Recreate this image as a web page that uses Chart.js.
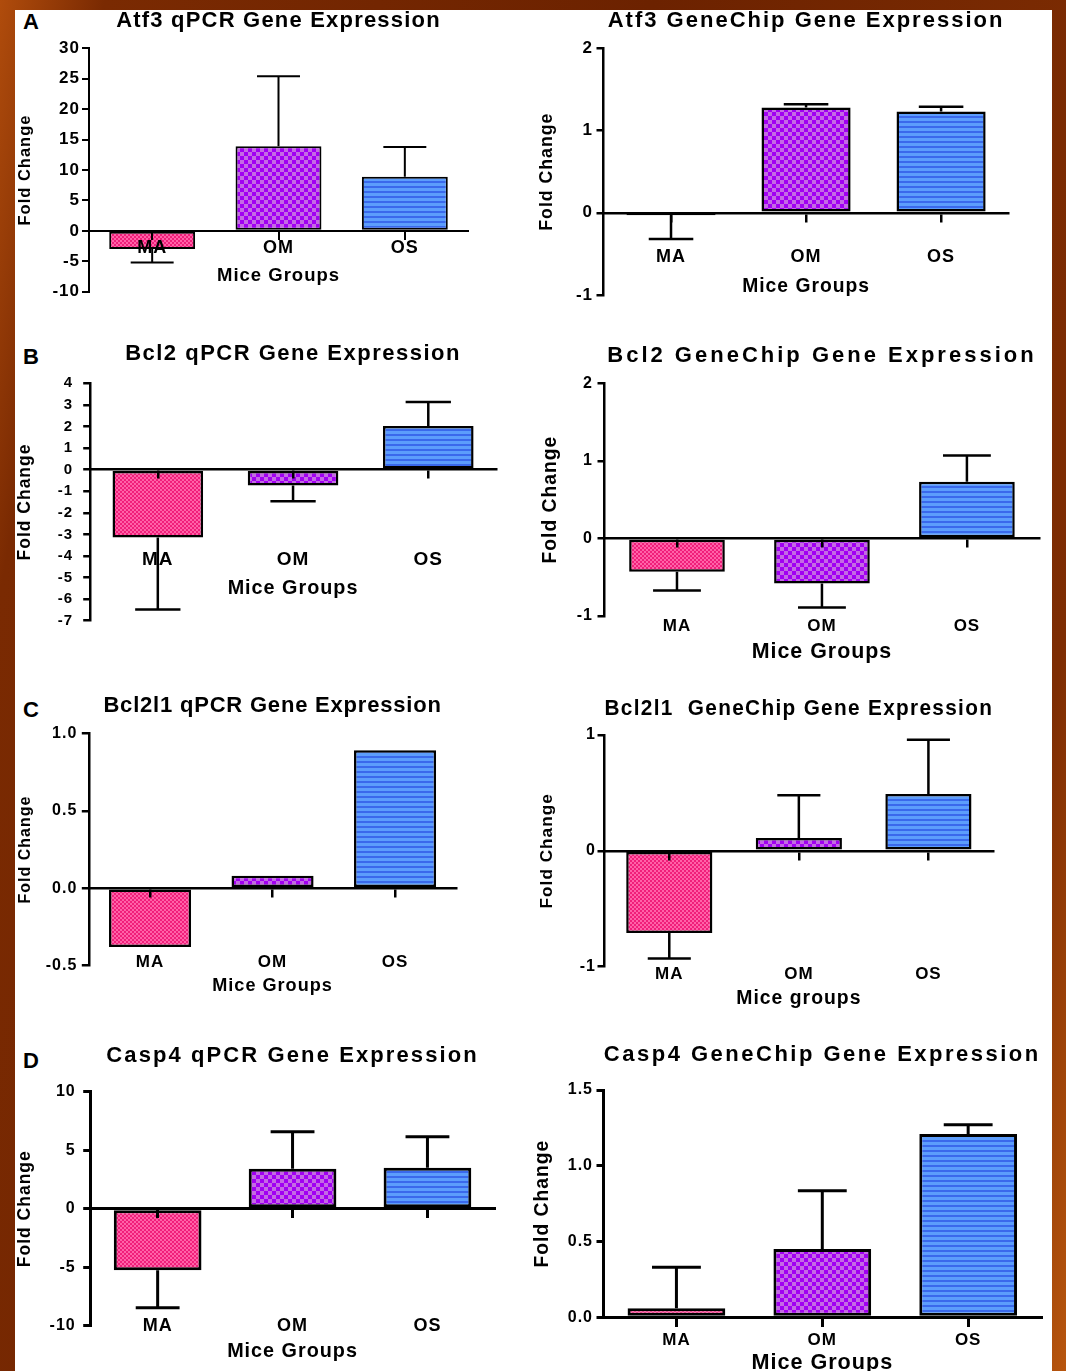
<!DOCTYPE html>
<html lang="en">
<head>
<meta charset="UTF-8">
<title>Atf3, Bcl2, Bcl2l1, Casp4 gene expression</title>
<script src="https://cdn.jsdelivr.net/npm/chart.js@4"></script>
<style>
    html, body { margin: 0; padding: 0; }
    body {
        width: 1066px; height: 1371px; overflow: hidden; position: relative;
        background: linear-gradient(100deg, #b04c0c 0%, #7a2a02 8%, #6c2200 50%, #7e2d03 90%, #b8560e 100%);
    }
    .sheet { position: absolute; left: 15px; top: 10px; width: 1037px; height: 1361px; background: #fff; }
    .panel { position: absolute; }
    .letter { position: absolute; font: bold 22px 'Liberation Sans', Arial, sans-serif; line-height: 22px; color: #000; }
</style>
</head>
<body>
<div class="sheet"></div>
<div class="letter" style="left:23px; top:11px">A</div>
<div class="letter" style="left:23px; top:346px">B</div>
<div class="letter" style="left:23px; top:699px">C</div>
<div class="letter" style="left:23px; top:1050px">D</div>

<script>
    // groups on the x axis
    const groups = ['MA', 'OM', 'OS'];

    // Atf3
    const atf3QpcrMean = [-3.0, 13.9, 8.9];
    const atf3QpcrSem = [2.2, 11.5, 4.9];
    const atf3QpcrTicks = [-10, -5, 0, 5, 10, 15, 20, 25, 30];
    const atf3ChipMean = [-0.03, 1.28, 1.23];
    const atf3ChipSem = [0.29, 0.04, 0.06];
    const atf3ChipTicks = [-1, 0, 1, 2];

    // Bcl2
    const bcl2QpcrMean = [-3.15, -0.73, 2.02];
    const bcl2QpcrSem = [3.33, 0.74, 1.11];
    const bcl2QpcrTicks = [-7, -6, -5, -4, -3, -2, -1, 0, 1, 2, 3, 4];
    const bcl2ChipMean = [-0.43, -0.58, 0.73];
    const bcl2ChipSem = [0.24, 0.31, 0.34];
    const bcl2ChipTicks = [-1, 0, 1, 2];

    // Bcl2l1
    const bcl2l1QpcrMean = [-0.38, 0.08, 0.89];
    const bcl2l1QpcrSem = [0, 0, 0];
    const bcl2l1QpcrTicks = [-0.5, 0.0, 0.5, 1.0];
    const bcl2l1ChipMean = [-0.71, 0.11, 0.49];
    const bcl2l1ChipSem = [0.22, 0.37, 0.47];
    const bcl2l1ChipTicks = [-1, 0, 1];

    // Casp4
    const casp4QpcrMean = [-5.27, 3.42, 3.5];
    const casp4QpcrSem = [3.2, 3.16, 2.65];
    const casp4QpcrTicks = [-10, -5, 0, 5, 10];
    const casp4ChipMean = [0.06, 0.45, 1.21];
    const casp4ChipSem = [0.27, 0.385, 0.06];
    const casp4ChipTicks = [0.0, 0.5, 1.0, 1.5];

    Chart.defaults.font.family = "'Liberation Sans', Arial, sans-serif";
    Chart.defaults.font.weight = 'bold';
    Chart.defaults.color = '#000';

    // fills for the bars
    function makePattern(w, h, paint) {
        const c = document.createElement('canvas');
        c.width = w;
        c.height = h;
        const g = c.getContext('2d');
        paint(g);
        return g.createPattern(c, 'repeat');
    }
    const maFill = makePattern(4, 4, g => {
        g.fillStyle = '#f01f7a'; g.fillRect(0, 0, 4, 4);
        g.fillStyle = '#ff62a8'; g.fillRect(0, 0, 2, 2); g.fillRect(2, 2, 2, 2);
    });
    const omFill = makePattern(8, 8, g => {
        g.fillStyle = '#a100f2'; g.fillRect(0, 0, 8, 8);
        g.fillStyle = '#c46ae4'; g.fillRect(0, 0, 4, 4); g.fillRect(4, 4, 4, 4);
    });
    const osFill = makePattern(4, 5, g => {
        g.fillStyle = '#5c9dfc'; g.fillRect(0, 0, 4, 5);
        g.fillStyle = '#3a69ec'; g.fillRect(0, 3, 4, 2);
    });

    // letter spacing: one value for the chart title, one for the axes
    const letterSpacing = {
        id: 'spacing',
        beforeLayout(chart, args, opts) { chart.ctx.letterSpacing = opts.other + 'px'; },
        beforeDraw(chart, args, opts) { chart.ctx.letterSpacing = opts.title + 'px'; },
        beforeDatasetsDraw(chart, args, opts) { chart.ctx.letterSpacing = opts.other + 'px'; }
    };

    // error bars, away from zero
    const errorBars = {
        id: 'errorBars',
        afterDatasetsDraw(chart, args, opts) {
            const ctx = chart.ctx;
            const y = chart.scales.y;
            chart.data.datasets.forEach((ds, di) => {
                chart.getDatasetMeta(di).data.forEach((bar, i) => {
                    const err = ds.errors[i];
                    if (!err) return;
                    const v = ds.data[i];
                    const yEnd = y.getPixelForValue(v < 0 ? v - err : v + err);
                    const half = bar.width / 4;
                    ctx.save();
                    ctx.strokeStyle = '#000';
                    ctx.lineWidth = opts.width;
                    ctx.beginPath();
                    ctx.moveTo(bar.x, bar.y);
                    ctx.lineTo(bar.x, yEnd);
                    ctx.moveTo(bar.x - half, yEnd);
                    ctx.lineTo(bar.x + half, yEnd);
                    ctx.stroke();
                    ctx.restore();
                });
            });
        }
    };

    const panels = [
        { title: 'Atf3 qPCR Gene Expression', xTitle: 'Mice Groups',
          mean: atf3QpcrMean, sem: atf3QpcrSem, ticks: atf3QpcrTicks, dec: 0,
          col: 0, left: 89, right: 468, top: 48.3, bottom: 291.7, titleY: 21.5, labelY: 248, xTitleY: 276.3, yTitleX: 25.5,
          fs: { title: 22, tick: 17, label: 18, xTitle: 18.5, yTitle: 16.5 }, titleSp: 1.2, sp: 1, tickPad: 2, lw: 2, barPct: 0.68 },
        { title: 'Atf3 GeneChip Gene Expression', xTitle: 'Mice Groups',
          mean: atf3ChipMean, sem: atf3ChipSem, ticks: atf3ChipTicks, dec: 0,
          col: 1, left: 603.5, right: 1008.6, top: 48.3, bottom: 295, titleY: 20.7, labelY: 256.7, xTitleY: 286.7, yTitleX: 547,
          fs: { title: 22, tick: 17, label: 18, xTitle: 19.3, yTitle: 17.7 }, titleSp: 2.0, sp: 1, tickPad: 3.5, lw: 2.5, barPct: 0.66 },
        { title: 'Bcl2 qPCR Gene Expression', xTitle: 'Mice Groups',
          mean: bcl2QpcrMean, sem: bcl2QpcrSem, ticks: bcl2QpcrTicks, dec: 0,
          col: 0, left: 90.2, right: 495.9, top: 383.3, bottom: 620.7, titleY: 354.3, labelY: 560, xTitleY: 588.3, yTitleX: 25.5,
          fs: { title: 22, tick: 15, label: 19, xTitle: 19.8, yTitle: 17.5 }, titleSp: 1.5, sp: 1, tickPad: 10, lw: 2.5, barPct: 0.67 },
        { title: 'Bcl2 GeneChip Gene Expression', xTitle: 'Mice Groups',
          mean: bcl2ChipMean, sem: bcl2ChipSem, ticks: bcl2ChipTicks, dec: 0,
          col: 1, left: 604.5, right: 1039.4, top: 383.3, bottom: 616, titleY: 355.7, labelY: 626.7, xTitleY: 651.7, yTitleX: 550.5,
          fs: { title: 22, tick: 16, label: 17, xTitle: 21.4, yTitle: 19.3 }, titleSp: 3.0, sp: 1, tickPad: 4.5, lw: 2.5, barPct: 0.66 },
        { title: 'Bcl2l1 qPCR Gene Expression', xTitle: 'Mice Groups',
          mean: bcl2l1QpcrMean, sem: bcl2l1QpcrSem, ticks: bcl2l1QpcrTicks, dec: 1,
          col: 0, left: 88.8, right: 456.3, top: 733.3, bottom: 965.7, titleY: 705.7, labelY: 962.7, xTitleY: 986, yTitleX: 25.5,
          fs: { title: 22, tick: 16, label: 17, xTitle: 18.1, yTitle: 16 }, titleSp: 0.8, sp: 1, tickPad: 4.5, lw: 2.5, barPct: 0.67 },
        { title: 'Bcl2l1  GeneChip Gene Expression', xTitle: 'Mice groups',
          mean: bcl2l1ChipMean, sem: bcl2l1ChipSem, ticks: bcl2l1ChipTicks, dec: 0,
          col: 1, left: 604.5, right: 993.2, top: 735, bottom: 966.7, titleY: 709, labelY: 974, xTitleY: 998.3, yTitleX: 547,
          fs: { title: 22, tick: 16, label: 17, xTitle: 19.4, yTitle: 17.2 }, titleSp: 1.4, sp: 1, tickPad: 1.5, lw: 2.5, barPct: 0.665 },
        { title: 'Casp4 qPCR Gene Expression', xTitle: 'Mice Groups',
          mean: casp4QpcrMean, sem: casp4QpcrSem, ticks: casp4QpcrTicks, dec: 0,
          col: 0, left: 90.2, right: 494.9, top: 1091.7, bottom: 1325.7, titleY: 1055.7, labelY: 1325.7, xTitleY: 1351.7, yTitleX: 25.5,
          fs: { title: 22, tick: 16, label: 18, xTitle: 19.8, yTitle: 17.5 }, titleSp: 2.1, sp: 1, tickPad: 7.5, lw: 3, barPct: 0.65 },
        { title: 'Casp4 GeneChip Gene Expression', xTitle: 'Mice Groups',
          mean: casp4ChipMean, sem: casp4ChipSem, ticks: casp4ChipTicks, dec: 1,
          col: 1, left: 603.5, right: 1041.1, top: 1090, bottom: 1317.3, titleY: 1055, labelY: 1340, xTitleY: 1363.3, yTitleX: 542.5,
          fs: { title: 22, tick: 16, label: 17, xTitle: 21.6, yTitle: 19.3 }, titleSp: 2.5, sp: 1, tickPad: 3.5, lw: 3, barPct: 0.67 }
    ];

    panels.forEach(p => {
        const cl = p.col ? 520 : 0;
        const ct = Math.round(p.titleY - p.fs.title * 0.6);
        const cb = Math.ceil(Math.max(p.bottom + 26, p.xTitleY + 16));
        const cw = Math.ceil(p.right - cl + 30);
        const pl = p.yTitleX - cl - p.fs.yTitle * 0.6;
        const pr = cw - (p.right - cl);
        const pb = cb - p.bottom;
        const yw = p.left - cl - pl;
        const titlePadBottom = p.top - ct - p.fs.title * 1.2;

        const yMin = p.ticks[0];
        const yMax = p.ticks[p.ticks.length - 1];
        // the group labels sit on their own axis, placed at a level of the y scale
        const labelTop = p.labelY - p.fs.label * 0.6;
        const labelAt = yMax - (labelTop - p.top) / (p.bottom - p.top) * (yMax - yMin);
        const xTitlePad = p.xTitleY - labelTop - p.fs.label * 1.2 - p.fs.xTitle * 0.6;

        const canvas = document.createElement('canvas');
        canvas.width = cw;
        canvas.height = cb - ct;
        canvas.className = 'panel';
        canvas.style.left = cl + 'px';
        canvas.style.top = ct + 'px';
        document.body.appendChild(canvas);

        new Chart(canvas, {
            type: 'bar',
            data: {
                labels: groups,
                datasets: [{
                    data: p.mean,
                    errors: p.sem,
                    backgroundColor: [maFill, omFill, osFill],
                    borderColor: '#000',
                    borderWidth: p.lw,
                    borderSkipped: false,
                    barPercentage: p.barPct,
                    categoryPercentage: 1
                }]
            },
            plugins: [letterSpacing, errorBars],
            options: {
                responsive: false,
                animation: false,
                events: [],
                layout: { padding: { left: pl, right: pr, top: 0, bottom: pb } },
                plugins: {
                    legend: { display: false },
                    tooltip: { enabled: false },
                    title: {
                        display: true, text: p.title, fullSize: false, color: '#000',
                        font: { size: p.fs.title, weight: 'bold' },
                        padding: { top: 0, bottom: titlePadBottom }
                    },
                    spacing: { title: p.titleSp, other: p.sp },
                    errorBars: { width: p.lw }
                },
                scales: {
                    x: {
                        type: 'category', position: { y: 0 }, offset: true,
                        grid: { offset: false, drawOnChartArea: false, drawTicks: true, tickLength: 8, color: '#000', lineWidth: p.lw, z: 1 },
                        border: { display: true, color: '#000', width: p.lw, z: 1 },
                        ticks: { display: false }
                    },
                    x2: {
                        type: 'category', axis: 'x', position: { y: labelAt }, offset: true,
                        grid: { display: false, drawTicks: false, z: 1 },
                        border: { display: false },
                        ticks: { padding: 0, autoSkip: false, maxRotation: 0, color: '#000', z: 1,
                                 font: { size: p.fs.label, weight: 'bold' } },
                        title: { display: true, text: p.xTitle, color: '#000',
                                 font: { size: p.fs.xTitle, weight: 'bold' },
                                 padding: { top: xTitlePad, bottom: 0 } }
                    },
                    y: {
                        type: 'linear', position: 'left', min: yMin, max: yMax,
                        afterBuildTicks: s => { s.ticks = p.ticks.map(v => ({ value: v })); },
                        afterFit: s => { s.width = yw; },
                        grid: { drawOnChartArea: false, drawTicks: true, tickLength: 7, color: '#000', lineWidth: p.lw, z: 1 },
                        border: { display: true, color: '#000', width: p.lw, z: 1 },
                        ticks: { padding: p.tickPad, color: '#000', z: 1, autoSkip: false,
                                 font: { size: p.fs.tick, weight: 'bold' },
                                 callback: v => Number(v).toFixed(p.dec) },
                        title: { display: true, text: 'Fold Change', color: '#000',
                                 font: { size: p.fs.yTitle, weight: 'bold' },
                                 padding: { top: 0, bottom: 0 } }
                    }
                }
            }
        });
    });
</script>
</body>
</html>
